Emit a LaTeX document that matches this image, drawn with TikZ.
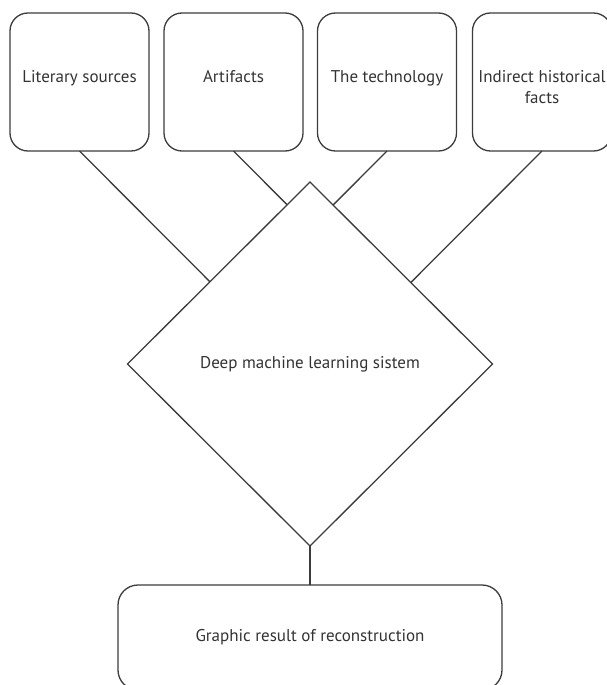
\documentclass[tikz,border=0pt]{standalone}
\usepackage{fontspec}
\setmainfont{PT Sans}
\usetikzlibrary{shapes.geometric,calc}

\definecolor{linegray}{HTML}{3C3C3C}
\definecolor{textgray}{HTML}{333333}

\begin{document}
\begin{tikzpicture}[x=1pt,y=-1pt,
    srcbox/.style={draw=linegray, line width=1.3pt, rounded corners=18pt,
      minimum width=139pt, minimum height=138pt, inner sep=0pt, outer sep=0pt},
    srctext/.style={anchor=base, align=center, text=textgray,
      font=\fontsize{17}{21}\selectfont, inner sep=0pt},
    dmlbox/.style={diamond, draw=linegray, line width=1.3pt, aspect=1,
      minimum width=365pt, minimum height=364pt, inner sep=0pt, outer sep=0pt,
      text=textgray, font=\fontsize{17}{21}\selectfont},
    resbox/.style={draw=linegray, line width=1.3pt, rounded corners=20pt,
      minimum width=384pt, minimum height=105pt, inner sep=0pt, outer sep=0pt,
      text=textgray, font=\fontsize{17}{21}\selectfont},
    link/.style={draw=linegray, line width=1.3pt}]

    % picture frame
    \useasboundingbox (0,0) rectangle (606,685);

    % draw source boxes
    \node[srcbox] (lit) at (79.5,82) {};
    \node[srcbox] (art) at (233.5,82) {};
    \node[srcbox] (tech) at (387,82) {};
    \node[srcbox] (hist) at (542,82) {};

    % draw source labels
    \node[srctext] (lit-t) at (79.5,82.5) {Literary sources};
    \node[srctext] (art-t) at (233.5,82.5) {Artifacts};
    \node[srctext] (tech-t) at (387,82.5) {The technology};
    \node[srctext, anchor=north] (hist-t) at (542,70.3) {Indirect historical\\facts};

    % draw learning system and result
    \node[dmlbox] (dml) at (310,364) {Deep machine learning sistem};
    \node[resbox] (res) at (310,637.5) {Graphic result of reconstruction};

    % draw links
    \draw[link] (lit.south) -- ($(dml.north)!(lit.south)!(dml.west)$);
    \draw[link] (art.south) -- ($(dml.north)!(art.south)!(dml.west)$);
    \draw[link] (tech.south) -- ($(dml.north)!(tech.south)!(dml.east)$);
    \draw[link] (hist.south) -- ($(dml.north)!(hist.south)!(dml.east)$);
    \draw[link] (dml.south) -- (res.north);

\end{tikzpicture}
\end{document}
